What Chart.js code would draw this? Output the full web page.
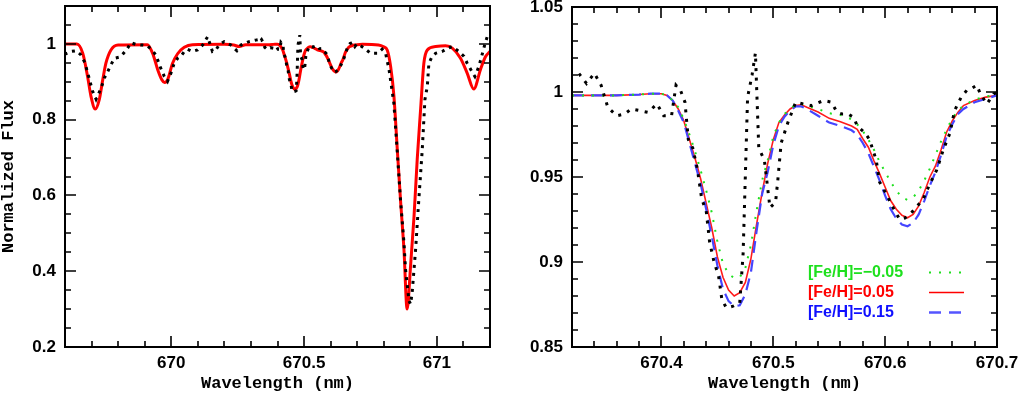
<!DOCTYPE html>
<html>
<head>
<meta charset="utf-8">
<script src="https://cdn.jsdelivr.net/npm/chart.js@4.4.0/dist/chart.umd.min.js"></script>
<style>
html, body { margin: 0; padding: 0; background: #fff; }
#wrap { position: relative; width: 1020px; height: 394px; overflow: hidden; }
.panel { position: absolute; top: 0; }
#p1 { left: 0; }
#p2 { left: 510px; }
</style>
</head>
<body>
<div id="wrap">
  <div class="panel" id="p1"><canvas id="leftChart" width="505" height="394"></canvas></div>
  <div class="panel" id="p2"><canvas id="rightChart" width="510" height="394"></canvas></div>
</div>
<script>
/* observed spectrum (dotted black) */
const obsWave = [669.598, 669.604, 669.623, 669.642, 669.660, 669.675, 669.689, 669.704, 669.717, 669.736,
  669.748, 669.761, 669.773, 669.786, 669.805, 669.820, 669.836, 669.848, 669.870, 669.892,
  669.910, 669.927, 669.942, 669.958, 669.974, 669.986, 669.999, 670.011, 670.024, 670.036,
  670.049, 670.061, 670.080, 670.099, 670.118, 670.137, 670.155, 670.168, 670.180, 670.199,
  670.224, 670.247, 670.262, 670.293, 670.318, 670.326, 670.333, 670.340, 670.346, 670.352,
  670.360, 670.367, 670.373, 670.381, 670.388, 670.396, 670.402, 670.409, 670.413, 670.417,
  670.421, 670.424, 670.428, 670.432, 670.436, 670.440, 670.443, 670.447, 670.451, 670.454,
  670.458, 670.464, 670.470, 670.473, 670.477, 670.481, 670.484, 670.487, 670.492, 670.497,
  670.502, 670.504, 670.507, 670.513, 670.520, 670.534, 670.545, 670.552, 670.557, 670.562,
  670.567, 670.572, 670.575, 670.582, 670.586, 670.592, 670.595, 670.601, 670.607, 670.613,
  670.618, 670.625, 670.634, 670.640, 670.646, 670.652, 670.658, 670.662, 670.668, 670.673,
  670.677, 670.682, 670.685, 670.691, 670.697, 670.703, 670.726, 670.751, 670.776, 670.794,
  670.807, 670.820, 670.838, 670.850, 670.863, 670.876, 670.882, 670.895, 670.901, 670.907,
  670.920, 670.932, 670.945, 670.955, 670.964, 670.970, 670.982, 670.995, 671.020, 671.040,
  671.058, 671.083, 671.102, 671.114, 671.127, 671.143, 671.158, 671.170, 671.180, 671.190,
  671.200];
const obsFlux = [0.975, 0.974, 0.980, 0.982, 0.971, 0.950, 0.914, 0.875, 0.854, 0.883,
  0.910, 0.927, 0.945, 0.962, 0.965, 0.975, 0.989, 1.003, 0.998, 0.997,
  0.995, 0.984, 0.971, 0.940, 0.914, 0.901, 0.923, 0.949, 0.962, 0.967,
  0.980, 0.986, 0.980, 0.984, 0.997, 1.019, 0.980, 0.984, 0.997, 1.006,
  0.997, 0.982, 0.997, 1.006, 1.010, 1.011, 1.005, 1.011, 1.004, 0.991,
  0.986, 0.987, 0.990, 0.989, 0.988, 0.993, 0.986, 0.986, 1.004, 1.001,
  0.994, 0.972, 0.967, 0.955, 0.937, 0.930, 0.912, 0.900, 0.892, 0.878,
  0.873, 0.874, 0.876, 0.905, 0.997, 1.010, 1.023, 0.967, 0.960, 0.932,
  0.935, 0.948, 0.970, 0.982, 0.994, 0.992, 0.995, 0.994, 0.988, 0.987,
  0.987, 0.985, 0.980, 0.976, 0.972, 0.960, 0.947, 0.940, 0.932, 0.925,
  0.926, 0.930, 0.937, 0.946, 0.954, 0.966, 0.976, 0.989, 0.997, 1.001,
  1.002, 1.004, 0.999, 0.993, 0.999, 1.000, 0.989, 0.975, 0.975, 0.986,
  0.975, 0.932, 0.844, 0.725, 0.589, 0.476, 0.405, 0.322, 0.313, 0.344,
  0.458, 0.589, 0.721, 0.853, 0.888, 0.949, 0.967, 0.975, 0.980, 0.988,
  0.993, 0.980, 0.967, 0.949, 0.933, 0.914, 0.940, 0.971, 0.997, 1.020,
  1.028];

/* synthetic spectra around the Li line */
const synWave = [670.32, 670.34, 670.36, 670.38, 670.39, 670.40,
  670.405, 670.41, 670.415, 670.42, 670.425, 670.43, 670.435, 670.44, 670.445, 670.45, 670.455, 670.46,
  670.465, 670.47, 670.475, 670.48, 670.485, 670.49, 670.495, 670.50, 670.505, 670.51, 670.515, 670.52,
  670.525, 670.53, 670.54, 670.55, 670.56, 670.57,
  670.575, 670.58, 670.585, 670.59, 670.595, 670.60, 670.605, 670.61, 670.615, 670.62,
  670.625, 670.63, 670.635, 670.64, 670.645, 670.65, 670.655, 670.66, 670.665, 670.67,
  670.68, 670.69, 670.70];
const synLow = [0.998, 0.998, 0.998, 0.9985, 0.999, 0.999,
  0.998, 0.995, 0.991, 0.984, 0.975, 0.965, 0.954, 0.942, 0.929, 0.912, 0.899, 0.893,
  0.8905, 0.891, 0.8965, 0.910, 0.930, 0.948, 0.960, 0.974, 0.982, 0.987, 0.990, 0.9925,
  0.993, 0.992, 0.990, 0.9875, 0.9865, 0.984,
  0.981, 0.977, 0.972, 0.966, 0.959, 0.953, 0.947, 0.942, 0.938, 0.9365,
  0.938, 0.942, 0.948, 0.955, 0.963, 0.971, 0.978, 0.9845, 0.989, 0.992,
  0.9955, 0.9975, 0.998];
const synMid = [0.998, 0.998, 0.998, 0.9985, 0.999, 0.999,
  0.998, 0.995, 0.990, 0.983, 0.972, 0.961, 0.949, 0.9345, 0.920, 0.903, 0.891, 0.8835,
  0.880, 0.882, 0.888, 0.902, 0.922, 0.941, 0.958, 0.972, 0.982, 0.9865, 0.990, 0.992,
  0.9925, 0.991, 0.9882, 0.9845, 0.9825, 0.980,
  0.978, 0.9725, 0.9675, 0.9595, 0.952, 0.944, 0.936, 0.931, 0.9275, 0.926,
  0.928, 0.933, 0.941, 0.950, 0.9565, 0.966, 0.9765, 0.983, 0.988, 0.992,
  0.995, 0.997, 0.998];
const synHigh = [0.998, 0.998, 0.998, 0.9985, 0.999, 0.999,
  0.998, 0.995, 0.989, 0.982, 0.970, 0.958, 0.946, 0.931, 0.915, 0.898, 0.884, 0.877,
  0.874, 0.8745, 0.881, 0.894, 0.918, 0.940, 0.953, 0.969, 0.980, 0.9855, 0.989, 0.9915,
  0.9915, 0.990, 0.986, 0.982, 0.980, 0.9775,
  0.975, 0.970, 0.964, 0.956, 0.948, 0.939, 0.931, 0.9255, 0.922, 0.921,
  0.923, 0.928, 0.936, 0.945, 0.953, 0.963, 0.974, 0.981, 0.987, 0.990,
  0.994, 0.996, 0.998];

/* rest of the red model for the wide panel */
const redLeftWave = [669.60, 669.645, 669.667, 669.685, 669.698, 669.714, 669.729, 669.742, 669.754, 669.773,
  669.80, 669.91, 669.93, 669.949, 669.965, 669.975, 669.986, 670.005, 670.024, 670.049,
  670.08, 670.20, 670.235, 670.256, 670.28];
const redLeftFlux = [1.0, 1.0, 0.975, 0.914, 0.861, 0.828, 0.853, 0.905, 0.949, 0.984,
  0.997, 0.998, 0.975, 0.932, 0.905, 0.898, 0.905, 0.949, 0.974, 0.991,
  0.998, 0.999, 0.997, 0.993, 0.998];
const redRightWave = [670.72, 670.78, 670.80, 670.813, 670.826, 670.838, 670.851, 670.863, 670.876, 670.888,
  670.901, 670.914, 670.926, 670.939, 670.951, 670.964, 670.995, 671.033, 671.058, 671.089,
  671.114, 671.139, 671.164, 671.183, 671.20];
const redRightFlux = [0.999, 0.997, 0.992, 0.984, 0.94, 0.865, 0.721, 0.589, 0.458, 0.30,
  0.414, 0.545, 0.695, 0.83, 0.949, 0.984, 0.993, 0.995, 0.989, 0.962,
  0.923, 0.881, 0.932, 0.966, 0.98];

/* ticks */
const leftXTicks = [670, 670.5, 671];
const leftYTicks = [0.2, 0.4, 0.6, 0.8, 1];
const rightXTicks = [670.4, 670.5, 670.6, 670.7];
const rightYTicks = [0.85, 0.9, 0.95, 1, 1.05];

const legendLabels = ['[Fe/H]=\u22120.05', '[Fe/H]=0.05', '[Fe/H]=0.15'];
const legendColors = ['#1ee01e', '#ff0000', '#1010ff'];

const pts = (xs, ys) => xs.map((x, i) => ({ x: x, y: ys[i] }));

const tickFont = { family: '"Liberation Sans", Arial, Helvetica, sans-serif', weight: 'bold', size: 17 };
const titleFont = { family: '"Liberation Mono", "Courier New", monospace', weight: 'bold', size: 17, lineHeight: 1 };
const fmt = (v) => String(+Number(v).toFixed(2));

// frame + inward ticks on all four sides
const frameTicks = {
  id: 'frameTicks',
  afterDatasetsDraw(chart, args, o) {
    const { ctx, chartArea: a } = chart;
    const xs = chart.scales.x, ys = chart.scales.y;
    ctx.save();
    ctx.strokeStyle = '#000';
    ctx.lineWidth = 1.6;
    ctx.beginPath();
    const xTick = (v, len) => {
      const p = Math.round(xs.getPixelForValue(v));
      ctx.moveTo(p, a.bottom); ctx.lineTo(p, a.bottom - len);
      ctx.moveTo(p, a.top); ctx.lineTo(p, a.top + len);
    };
    const yTick = (v, len) => {
      const p = Math.round(ys.getPixelForValue(v));
      ctx.moveTo(a.left, p); ctx.lineTo(a.left + len, p);
      ctx.moveTo(a.right, p); ctx.lineTo(a.right - len, p);
    };
    for (let v = Math.ceil(xs.min / o.xStep - 1e-6) * o.xStep; v <= xs.max + 1e-9; v += o.xStep) xTick(v, 6);
    for (let v = Math.ceil(ys.min / o.yStep - 1e-6) * o.yStep; v <= ys.max + 1e-9; v += o.yStep) yTick(v, 6);
    o.xMajor.forEach(v => xTick(v, 11));
    o.yMajor.forEach(v => yTick(v, 11));
    ctx.stroke();
    ctx.lineWidth = 2;
    ctx.strokeRect(a.left, a.top, a.right - a.left, a.bottom - a.top);
    ctx.restore();
  }
};

// legend inside right panel
const metalLegend = {
  id: 'metalLegend',
  afterDatasetsDraw(chart) {
    if (chart.canvas.id !== 'rightChart') return;
    const { ctx, chartArea: a } = chart;
    const dashes = [[2, 8], [], [12, 8]];
    const widths = [2, 1.6, 2.4];
    ctx.save();
    ctx.font = 'bold 16px "Liberation Sans", Arial, sans-serif';
    ctx.textBaseline = 'middle';
    legendLabels.forEach((t, i) => {
      const yy = a.top + 265.5 + i * 20;
      ctx.fillStyle = legendColors[i];
      ctx.fillText(t, a.left + 236, yy);
      ctx.strokeStyle = i === 2 ? '#5555ff' : legendColors[i];
      ctx.lineWidth = widths[i];
      ctx.setLineDash(dashes[i]);
      ctx.beginPath();
      ctx.moveTo(a.left + 357, yy);
      ctx.lineTo(a.left + 392, yy);
      ctx.stroke();
    });
    ctx.restore();
  }
};

function axes(xMin, xMax, xTicks, yMin, yMax, yTicks, yWidth, yTitle) {
  return {
    x: {
      type: 'linear', min: xMin, max: xMax,
      grid: { display: false, drawTicks: false }, border: { display: false },
      afterBuildTicks: (s) => { s.ticks = xTicks.map(v => ({ value: v })); },
      afterFit: (s) => { s.height = 47; s.paddingLeft = 0; s.paddingRight = 0; },
      ticks: { color: '#000', font: tickFont, padding: 6, maxRotation: 0, callback: fmt },
      title: { display: true, text: 'Wavelength (nm)', color: '#000', font: titleFont, padding: { top: 0, bottom: 2 } }
    },
    y: {
      type: 'linear', min: yMin, max: yMax,
      grid: { display: false, drawTicks: false }, border: { display: false },
      afterBuildTicks: (s) => { s.ticks = yTicks.map(v => ({ value: v })); },
      afterFit: (s) => { s.width = yWidth; s.paddingTop = 0; s.paddingBottom = 0; },
      ticks: { color: '#000', font: tickFont, padding: 9, callback: fmt },
      title: { display: !!yTitle, text: yTitle || '', color: '#000', font: titleFont, padding: { top: 0, bottom: 0 } }
    }
  };
}

const baseOpts = {
  responsive: false,
  animation: false,
  events: [],
  plugins: { legend: { display: false }, tooltip: { enabled: false } },
  elements: { point: { radius: 0 } }
};

/* left: wide range */
const leftRed = pts(redLeftWave.concat(synWave, redRightWave), redLeftFlux.concat(synMid, redRightFlux));
new Chart(document.getElementById('leftChart'), {
  type: 'line',
  data: {
    datasets: [
      { data: pts(obsWave, obsFlux), borderColor: '#000', borderWidth: 3, borderDash: [3, 5], borderCapStyle: 'butt', tension: 0, clip: 0 },
      { data: leftRed, borderColor: '#ff0000', borderWidth: 3, cubicInterpolationMode: 'monotone', clip: 0 }
    ]
  },
  options: Object.assign({}, baseOpts, {
    layout: { padding: { left: 0, top: 6, right: 15, bottom: 0 } },
    scales: axes(669.6, 671.2, leftXTicks, 0.2, 1.1, leftYTicks, 65, 'Normalized Flux'),
    plugins: Object.assign({}, baseOpts.plugins, {
      frameTicks: { xStep: 0.1, yStep: 0.05, xMajor: leftXTicks, yMajor: leftYTicks }
    })
  }),
  plugins: [frameTicks]
});

/* right: zoom on Li region */
new Chart(document.getElementById('rightChart'), {
  type: 'line',
  data: {
    datasets: [
      { data: pts(obsWave, obsFlux), borderColor: '#000', borderWidth: 3, borderDash: [3, 6.5], borderCapStyle: 'butt', tension: 0, clip: 0 },
      { data: pts(synWave, synLow), borderColor: '#1ee01e', borderWidth: 2, borderDash: [2, 8], tension: 0, clip: 0 },
      { data: pts(synWave, synHigh), borderColor: '#4545ff', borderWidth: 2.2, borderDash: [12, 7], tension: 0, clip: 0 },
      { data: pts(synWave, synMid), borderColor: '#ff1a1a', borderWidth: 1.6, tension: 0, clip: 0 }
    ]
  },
  options: Object.assign({}, baseOpts, {
    layout: { padding: { left: 0, top: 7, right: 23, bottom: 0 } },
    scales: axes(670.32, 670.70, rightXTicks, 0.85, 1.05, rightYTicks, 62, null),
    plugins: Object.assign({}, baseOpts.plugins, {
      frameTicks: { xStep: 0.02, yStep: 0.01, xMajor: rightXTicks, yMajor: rightYTicks }
    })
  }),
  plugins: [frameTicks, metalLegend]
});
</script>
</body>
</html>
